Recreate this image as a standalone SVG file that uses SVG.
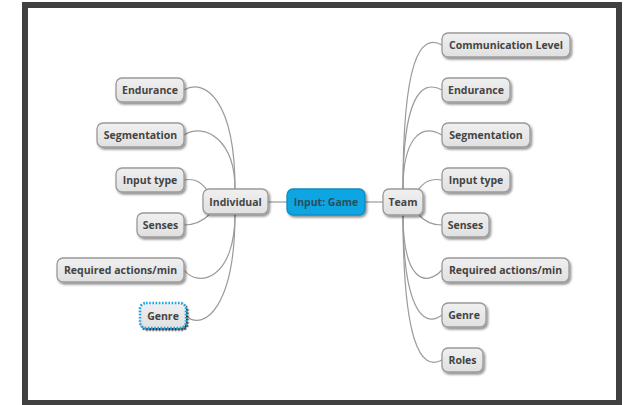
<svg xmlns="http://www.w3.org/2000/svg" width="626" height="405" viewBox="0 0 626 405">
<defs>
<filter id="sh" x="-20%" y="-30%" width="140%" height="170%">
<feDropShadow dx="1.5" dy="1.8" stdDeviation="0.9" flood-color="#000" flood-opacity="0.45"/>
</filter>
<linearGradient id="gg" x1="0" y1="0" x2="0" y2="1">
<stop offset="0" stop-color="#f0f0f0"/>
<stop offset="1" stop-color="#e0e0e0"/>
</linearGradient>
<style>
.n rect{fill:url(#gg);stroke:#9a9a9a;stroke-width:1.3;filter:url(#sh)}
.n text{font-family:"Open Sans","DejaVu Sans",sans-serif;font-weight:bold;font-size:10.5px;fill:#444;text-anchor:middle;dominant-baseline:central}
#root rect{fill:#0ea5e2;stroke:#0b8cc2}
#root text{fill:#2b4e5e}
#L7 rect{stroke:#1aa5e5;stroke-width:2.6;stroke-dasharray:1.6 1.6;filter:url(#sh2)}
.c path{fill:none;stroke:#9a9a9a;stroke-width:1.2}
</style>
<filter id="sh2" x="-20%" y="-30%" width="140%" height="170%">
<feDropShadow dx="1.5" dy="1.8" stdDeviation="0.6" flood-color="#000" flood-opacity="0.8"/>
</filter>
</defs>
<rect x="0" y="0" width="626" height="405" fill="#fff"/>
<rect x="25" y="5" width="594" height="398" fill="#fff" stroke="#404040" stroke-width="6"/>
<g class="c">
<path d="M268,202 L287,202"/>
<path d="M365,202 L383,202"/>
<path d="M184,90 C205,78 235,100 235,189"/>
<path d="M184,135 C205,122 235,140 235,189"/>
<path d="M184,180 C195,178 201,182 207,190"/>
<path d="M184,225 C196,225 204,220 210,214"/>
<path d="M184,270 C198,288 235,280 235,214"/>
<path d="M186,316 C205,332 235,305 235,214"/>
<path d="M442,45 C420,33 403,60 403,189"/>
<path d="M442,90 C420,78 403,100 403,189"/>
<path d="M442,135 C420,122 403,140 403,189"/>
<path d="M442,180 C430,178 424,182 418,190"/>
<path d="M442,225 C430,225 423,220 418,214"/>
<path d="M442,270 C425,288 403,280 403,214"/>
<path d="M442,315 C422,330 403,305 403,214"/>
<path d="M442,360 C420,372 403,340 403,214"/>
</g>
<g id="root" class="n"><rect x="287" y="189" width="78" height="26" rx="6"/><text x="326" y="202">Input: Game</text></g>
<g id="ind" class="n"><rect x="203" y="189" width="65" height="25" rx="6"/><text x="235.5" y="201.5">Individual</text></g>
<g id="team" class="n"><rect x="383" y="189" width="40" height="26" rx="6"/><text x="403" y="202">Team</text></g>
<g id="L1" class="n"><rect x="116" y="78" width="68" height="24" rx="6"/><text x="150" y="90">Endurance</text></g>
<g id="L2" class="n"><rect x="97" y="123" width="87" height="24" rx="6"/><text x="140.5" y="135">Segmentation</text></g>
<g id="L3" class="n"><rect x="116" y="168" width="68" height="24" rx="6"/><text x="150" y="180">Input type</text></g>
<g id="L4" class="n"><rect x="137" y="213" width="47" height="24" rx="6"/><text x="160.5" y="225">Senses</text></g>
<g id="L5" class="n"><rect x="57" y="258" width="127" height="24" rx="6"/><text x="120.5" y="270">Required actions/min</text></g>
<g id="L7" class="n"><rect x="140" y="303" width="46" height="25" rx="6"/><text x="163" y="315.5">Genre</text></g>
<g id="R1" class="n"><rect x="442" y="33" width="128" height="24" rx="6"/><text x="506" y="45">Communication Level</text></g>
<g id="R2" class="n"><rect x="442" y="78" width="68" height="24" rx="6"/><text x="476" y="90">Endurance</text></g>
<g id="R3" class="n"><rect x="442" y="123" width="88" height="24" rx="6"/><text x="486" y="135">Segmentation</text></g>
<g id="R4" class="n"><rect x="442" y="168" width="68" height="24" rx="6"/><text x="476" y="180">Input type</text></g>
<g id="R5" class="n"><rect x="442" y="213" width="47" height="24" rx="6"/><text x="465.5" y="225">Senses</text></g>
<g id="R6" class="n"><rect x="442" y="258" width="127" height="24" rx="6"/><text x="505.5" y="270">Required actions/min</text></g>
<g id="R7" class="n"><rect x="442" y="303" width="44" height="24" rx="6"/><text x="464" y="315">Genre</text></g>
<g id="R8" class="n"><rect x="442" y="348" width="41" height="24" rx="6"/><text x="462.5" y="360">Roles</text></g>
</svg>
